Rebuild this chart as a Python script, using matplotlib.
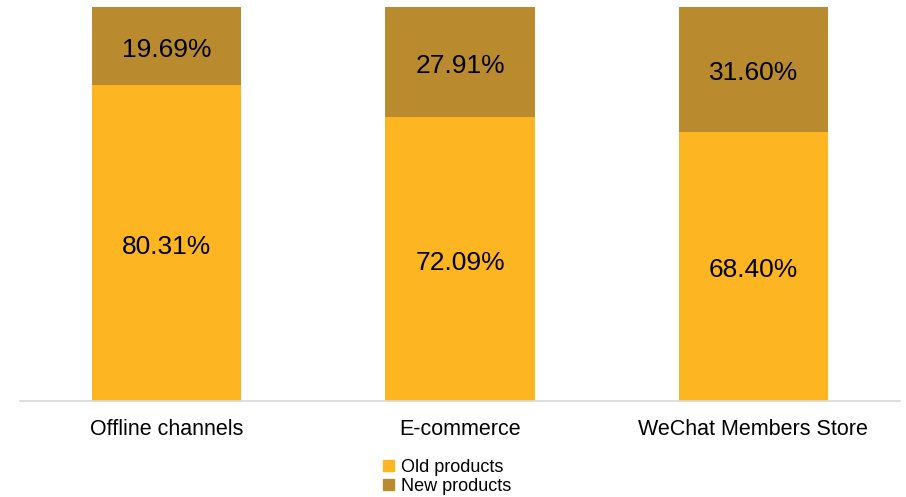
import matplotlib.pyplot as plt
from matplotlib.patches import Patch

plt.rcParams['font.family'] = ['Liberation Sans', 'DejaVu Sans']

channels = ['Offline channels', 'E-commerce', 'WeChat Members Store']
old_share = [80.31, 72.09, 68.40]
new_share = [19.69, 27.91, 31.60]

old_color = '#FDB522'
new_color = '#B98B2E'

fig = plt.figure(figsize=(9.06, 4.97), dpi=100)
ax = fig.add_axes([20/906, 1-401/497, 880/906, 394/497])

x = list(range(len(channels)))
ax.bar(x, old_share, width=0.51, color=old_color, label='Old products')
ax.bar(x, new_share, width=0.51, bottom=old_share, color=new_color, label='New products')

# value labels, nudged slightly down like the original
for i in x:
    ax.text(i, old_share[i]/2 - 1, '%.2f%%' % old_share[i], ha='center', va='center', fontsize=19)
    ax.text(i, old_share[i] + new_share[i]/2 - 1, '%.2f%%' % new_share[i], ha='center', va='center', fontsize=19)

ax.set_xlim(-0.5, len(channels) - 0.5)
ax.set_ylim(0, 100)
ax.set_yticks([])
ax.set_xticks(x)
ax.set_xticklabels(channels, fontsize=15.5)
ax.tick_params(axis='x', length=0, pad=13)
for s in ['top', 'right', 'left']:
    ax.spines[s].set_visible(False)
ax.spines['bottom'].set_color('#D9D9D9')
ax.spines['bottom'].set_linewidth(1.2)

handles = [Patch(color=old_color), Patch(color=new_color)]
fig.legend(handles, ['Old products', 'New products'], loc='center', bbox_to_anchor=(447/906, 1-477/497),
           frameon=False, fontsize=13, handlelength=0.6, handleheight=0.6, handletextpad=0.4,
           labelspacing=0.12, borderpad=0)

fig.savefig('out.png', dpi=100)
